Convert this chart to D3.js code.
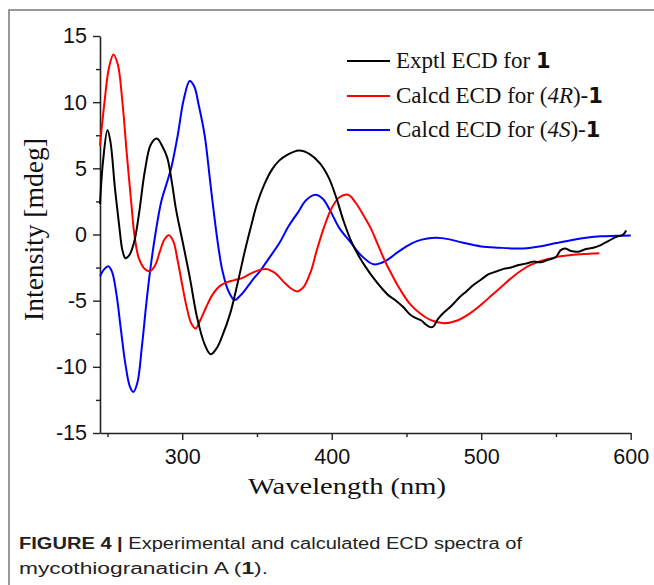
<!DOCTYPE html>
<html>
<head>
<meta charset="utf-8">
<script src="https://cdn.jsdelivr.net/npm/d3@7"></script>
<style>
  body { margin: 0; background: #fff; }
  svg { display: block; }
</style>
</head>
<body>
<svg id="chart" width="654" height="585"></svg>
<script>
// wavelength (nm) / intensity (mdeg) pairs
let exptWave = [245, 247, 250, 252, 255, 258, 260, 262, 263.5, 265, 268, 271, 275, 279, 283, 287, 290, 293, 296, 300, 305, 310, 315, 319, 323, 327, 332, 337, 342, 346, 350, 355, 360, 365, 370, 378, 385, 392, 398, 403, 408, 413, 418, 423, 428, 433, 438, 443, 448, 452, 456, 460, 463, 466, 468, 471, 475, 480, 485, 490, 495, 500, 505, 510, 515, 520, 525, 530, 535, 540, 545, 550, 553, 556, 560, 565, 570, 575, 580, 585, 590, 595, 597];
let exptVal = [2.3, 5.5, 7.9, 7.0, 3.5, 0.5, -1.2, -1.8, -1.7, -1.5, -0.5, 1.5, 4.8, 6.8, 7.25, 6.6, 5.8, 4.0, 1.8, -0.4, -3.2, -6.3, -8.3, -9.05, -8.6, -7.6, -6.0, -3.7, -1.2, 0.6, 2.3, 3.8, 4.9, 5.6, 6.0, 6.35, 6.1, 5.4, 4.3, 2.8, 1.0, -0.5, -1.6, -2.5, -3.3, -4.0, -4.6, -5.0, -5.5, -6.0, -6.3, -6.5, -6.8, -7.0, -6.95, -6.4, -5.9, -5.4, -4.8, -4.3, -3.8, -3.4, -3.0, -2.8, -2.6, -2.5, -2.3, -2.2, -2.05, -2.1, -1.9, -1.7, -1.2, -1.05, -1.25, -1.3, -1.1, -1.0, -0.8, -0.5, -0.2, 0.0, 0.3];

let calcRWave = [245, 248, 251, 254, 257, 260, 263, 266, 268, 271, 275, 278.5, 282, 285, 288, 291, 294, 297, 300, 303, 306, 309, 312, 316, 320, 325, 330, 335, 340, 345, 350, 356, 362, 368, 373, 377, 381, 386, 390, 395, 400, 405, 411, 416, 421, 426, 431, 436, 441, 446, 452, 459, 466, 475, 484, 492, 500, 507, 513, 520, 527, 533, 540, 547, 553, 560, 566, 572, 579];
let calcRVal = [6.7, 10.0, 12.6, 13.6, 12.8, 10.0, 6.0, 2.3, 0.0, -1.8, -2.6, -2.77, -2.3, -1.3, -0.4, -0.05, -0.5, -2.0, -3.8, -5.5, -6.7, -7.1, -6.5, -5.5, -4.6, -3.9, -3.6, -3.45, -3.3, -3.0, -2.75, -2.6, -2.9, -3.6, -4.1, -4.3, -4.0, -2.8, -1.2, 0.6, 2.0, 2.8, 3.0, 2.4, 1.5, 0.5, -0.8, -2.1, -3.2, -4.2, -5.2, -5.95, -6.45, -6.7, -6.5, -6.0, -5.3, -4.6, -4.0, -3.3, -2.7, -2.3, -2.0, -1.8, -1.65, -1.55, -1.5, -1.45, -1.42];

let calcSWave = [245, 248, 250.5, 253, 256, 259, 262, 265, 267.3, 270, 273, 276, 278.5, 282, 286, 290, 293, 297, 301, 305, 308, 311, 315, 318.5, 321, 324, 327, 331, 335, 339, 344, 348, 352, 358, 365, 371, 377, 383, 389, 394, 399, 405, 412, 419, 428, 436, 444, 450, 457, 464, 470, 478, 488, 500, 512, 520, 528, 540, 550, 560, 570, 580, 590, 600];
let calcSVal = [-3.15, -2.6, -2.4, -2.8, -4.5, -7.2, -9.8, -11.5, -11.9, -11.2, -8.5, -5.2, -2.77, 0.0, 2.5, 4.0, 5.2, 7.5, 10.2, 11.6, 11.2, 9.8, 7.5, 4.2, 1.8, -0.8, -2.8, -4.3, -4.95, -4.6, -3.9, -3.3, -2.77, -1.8, -0.65, 0.6, 1.6, 2.6, 3.0, 2.7, 1.8, 0.5, -0.5, -1.5, -2.25, -2.0, -1.35, -0.9, -0.5, -0.3, -0.25, -0.35, -0.63, -0.9, -1.0, -1.05, -1.05, -0.88, -0.65, -0.43, -0.25, -0.13, -0.1, -0.08];

let xTicks = [300, 400, 500, 600];
let xMinor = [250, 350, 450, 550];
let yTicks = [-15, -10, -5, 0, 5, 10, 15];
let yMinor = [-12.5, -7.5, -2.5, 2.5, 7.5, 12.5];

let seriesNames = ["Exptl", "Calcd R", "Calcd S"];
let seriesColors = ["#000000", "#ff0000", "#0000ff"];

let svg = d3.select("#chart");

// figure frame (top and left edges only)
svg.append("path")
  .attr("d", "M9,585 V10 H654")
  .attr("fill", "none")
  .attr("stroke", "#777")
  .attr("stroke-width", 1.5);

let x = d3.scaleLinear().domain([245, 600]).range([100, 630.7]);
let y = d3.scaleLinear().domain([-15, 15]).range([433, 36]);

// plain hyphen for negatives, like the original
let fmt = d => String(d);

// axes
let xAxis = svg.append("g")
  .attr("transform", "translate(0,433)")
  .call(d3.axisBottom(x).tickValues(xTicks).tickFormat(fmt).tickSize(7).tickPadding(9).tickSizeOuter(0));
xAxis.append("g")
  .call(d3.axisBottom(x).tickValues(xMinor).tickSize(4).tickFormat(""))
  .select(".domain").remove();

let yAxis = svg.append("g")
  .attr("transform", "translate(100,0)")
  .call(d3.axisLeft(y).tickValues(yTicks).tickFormat(fmt).tickSize(7).tickPadding(6).tickSizeOuter(0));
yAxis.append("g")
  .call(d3.axisLeft(y).tickValues(yMinor).tickSize(4).tickFormat(""))
  .select(".domain").remove();

svg.selectAll(".domain").attr("stroke", "#222").attr("stroke-width", 1.6);
svg.selectAll(".tick line").attr("stroke", "#222").attr("stroke-width", 1.4);
svg.selectAll(".tick text")
  .attr("fill", "#111")
  .style("font-family", "'Liberation Sans', Arial, sans-serif")
  .style("font-size", "21.5px");

// axis titles
svg.append("text")
  .attr("x", 248)
  .attr("y", 494)
  .attr("textLength", 198)
  .attr("lengthAdjust", "spacingAndGlyphs")
  .style("font-family", "'Liberation Serif', 'Times New Roman', serif")
  .style("font-size", "24px")
  .attr("fill", "#111")
  .text("Wavelength (nm)");

svg.append("text")
  .attr("transform", "translate(43,321) rotate(-90)")
  .attr("textLength", 183)
  .attr("lengthAdjust", "spacingAndGlyphs")
  .style("font-family", "'Liberation Serif', 'Times New Roman', serif")
  .style("font-size", "27px")
  .attr("fill", "#111")
  .text("Intensity [mdeg]");

// curves
let allSeries = [
  { name: seriesNames[0], wave: exptWave, val: exptVal },
  { name: seriesNames[1], wave: calcRWave, val: calcRVal },
  { name: seriesNames[2], wave: calcSWave, val: calcSVal }
];

let line = d3.line()
  .x(d => x(d[0]))
  .y(d => y(d[1]))
  .curve(d3.curveCatmullRom.alpha(0.5));

// draw blue first, then red, then black on top (as in the figure)
[2, 1, 0].forEach(i => {
  let s = allSeries[i];
  svg.append("path")
    .datum(s.wave.map((w, j) => [w, s.val[j]]))
    .attr("d", line)
    .attr("fill", "none")
    .attr("stroke", seriesColors[i])
    .attr("stroke-width", 2)
    .attr("stroke-linejoin", "round");
});

// legend
let legendRows = [
  [{ t: "Exptl ECD for " }, { t: "1", b: true }],
  [{ t: "Calcd ECD for (" }, { t: "4R", i: true }, { t: ")-" }, { t: "1", b: true }],
  [{ t: "Calcd ECD for (" }, { t: "4S", i: true }, { t: ")-" }, { t: "1", b: true }]
];
let legendY = [61, 96, 130];

legendRows.forEach((row, i) => {
  svg.append("line")
    .attr("x1", 347).attr("x2", 390)
    .attr("y1", legendY[i]).attr("y2", legendY[i])
    .attr("stroke", seriesColors[i])
    .attr("stroke-width", 2);
  let txt = svg.append("text")
    .attr("x", 396)
    .attr("y", legendY[i] + 7)
    .style("font-family", "'Liberation Serif', 'Times New Roman', serif")
    .style("font-size", "23px")
    .attr("fill", "#111");
  row.forEach(part => {
    let sp = txt.append("tspan").text(part.t);
    if (part.i) sp.style("font-style", "italic");
    if (part.b) sp.style("font-family", "'DejaVu Sans', sans-serif").style("font-weight", "bold").style("font-size", "21px");
  });
});

// caption
let cap1 = svg.append("text")
  .attr("x", 19).attr("y", 549)
  .attr("textLength", 503)
  .attr("lengthAdjust", "spacingAndGlyphs")
  .style("font-family", "'Liberation Sans', Arial, sans-serif")
  .style("font-size", "16px")
  .attr("fill", "#222");
cap1.append("tspan").style("font-weight", "bold").text("FIGURE 4 | ");
cap1.append("tspan").text("Experimental and calculated ECD spectra of");

let cap2 = svg.append("text")
  .attr("x", 19).attr("y", 574)
  .attr("textLength", 249)
  .attr("lengthAdjust", "spacingAndGlyphs")
  .style("font-family", "'Liberation Sans', Arial, sans-serif")
  .style("font-size", "16px")
  .attr("fill", "#222");
cap2.append("tspan").text("mycothiogranaticin A (");
cap2.append("tspan").style("font-weight", "bold").text("1");
cap2.append("tspan").text(").");
</script>
</body>
</html>
